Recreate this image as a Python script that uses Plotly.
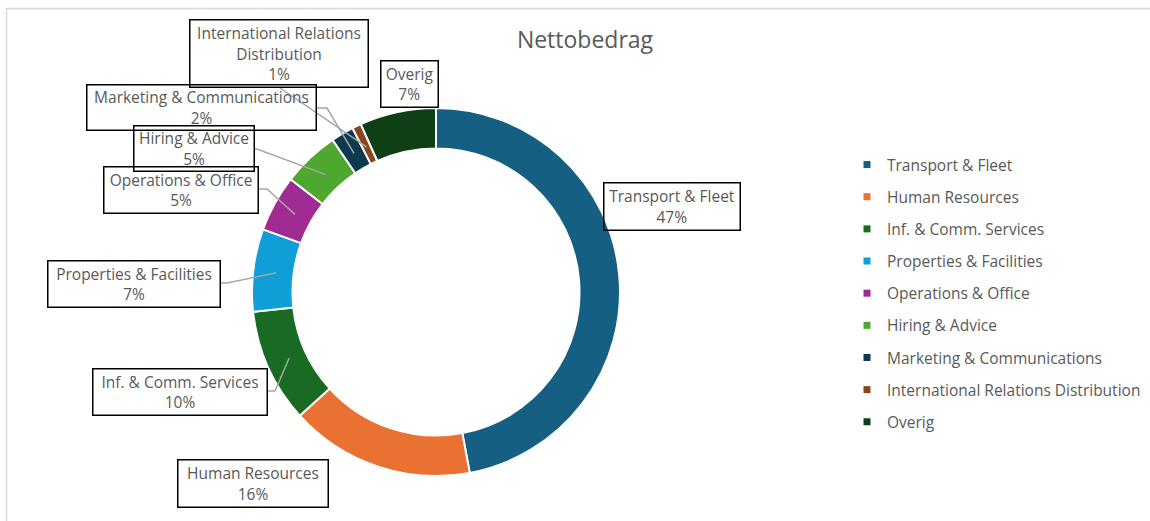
import math
import plotly.graph_objects as go

# ---------------- data ----------------
categories = [
    "Transport & Fleet",
    "Human Resources",
    "Inf. & Comm. Services",
    "Properties & Facilities",
    "Operations & Office",
    "Hiring & Advice",
    "Marketing & Communications",
    "International Relations Distribution",
    "Overig",
]
values = [47.05, 16.2, 10.0, 7.25, 4.97, 5.0, 2.0, 0.8, 6.7]
title_text = "Nettobedrag"

# ---------------- styles ----------------
colors = ["#156082", "#E97132", "#196B24", "#0F9ED5", "#A02B93",
          "#4EA72E", "#0D3A4F", "#8B441E", "#0F4015"]
FONT = "Open Sans"
TXT = "#595959"
W, H = 1150, 521
LABEL_SIZE = 15.5

# donut geometry in pixels (layout)
CX, CY, R = 436, 292, 184
HOLE = 0.78
LEADER_R = 161

# label boxes (pixel layout): x0, y0, x1, y1, label wrap, leader elbow, attach point
label_layout = [
    dict(box=(603, 183, 740, 231), wrap=None, elbow=None, attach=None),
    dict(box=(177, 459, 328, 507), wrap=None, elbow=None, attach=None),
    dict(box=(92, 368, 267, 415), wrap=None, elbow=(275, 391), attach=(267, 391)),
    dict(box=(47, 260, 220, 307), wrap=None, elbow=(227, 283), attach=(220, 283)),
    dict(box=(103, 166, 258, 213), wrap=None, elbow=(267, 189), attach=(258, 189)),
    dict(box=(133, 126, 254, 172), wrap=None, elbow=(257, 149), attach=(254, 149)),
    dict(box=(86, 85, 316, 131), wrap=None, elbow=(327, 108), attach=(316, 108)),
    dict(box=(189, 20, 368, 88), wrap="International Relations<br>Distribution", elbow=None, attach=(280, 88)),
    dict(box=(380, 61, 438, 108), wrap=None, elbow=None, attach=None),
]


def px(x):
    return x / W


def py(y):
    return 1 - y / H


fig = go.Figure()

fig.add_trace(go.Pie(
    labels=categories,
    values=values,
    hole=HOLE,
    sort=False,
    direction="clockwise",
    rotation=0,
    marker=dict(colors=colors, line=dict(color="white", width=2)),
    textinfo="none",
    hoverinfo="label+percent",
    showlegend=False,
    domain=dict(x=[px(CX - R), px(CX + R)], y=[py(CY + R), py(CY - R)]),
))

# legend entries (one group per category so spacing can be set)
for name, col in zip(categories, colors):
    fig.add_trace(go.Scatter(
        x=[None], y=[None], mode="markers", name=name, legendgroup=name,
        marker=dict(symbol="square", size=7, color=col),
        hoverinfo="skip", showlegend=True,
    ))

total = sum(values)
annotations = []
shapes = []
cum = 0.0
for i, (name, v) in enumerate(zip(categories, values)):
    mid = (cum + v / 2) / total * 360.0
    cum += v
    lay = label_layout[i]
    pct = round(v / total * 100)
    label = lay["wrap"] if lay["wrap"] else name
    x0, y0, x1, y1 = lay["box"]
    annotations.append(dict(
        x=px((x0 + x1) / 2), y=py((y0 + y1) / 2), xref="paper", yref="paper",
        xanchor="center", yanchor="middle",
        text=f"{label}<br>{pct}%", showarrow=False,
        font=dict(family=FONT, size=LABEL_SIZE, color=TXT),
        align="center", valign="middle",
        width=x1 - x0 - 2, height=y1 - y0 - 2, borderpad=0,
        bordercolor="black", borderwidth=1.5, bgcolor="rgba(0,0,0,0)",
    ))
    if lay["attach"] is not None:
        th = math.radians(mid)
        sx = CX + LEADER_R * math.sin(th)
        sy = CY - LEADER_R * math.cos(th)
        pts = [(sx, sy)]
        if lay["elbow"] is not None:
            pts.append(lay["elbow"])
        pts.append(lay["attach"])
        path = "M " + " L ".join(f"{px(a):.5f},{py(b):.5f}" for a, b in pts)
        shapes.append(dict(type="path", path=path, xref="paper", yref="paper",
                           line=dict(color="#A6A6A6", width=1.5)))

# chart area border
shapes.append(dict(type="path", xref="paper", yref="paper",
                   path=f"M {px(6.5)},{py(530)} L {px(6.5)},{py(8.5)} L {px(1160)},{py(8.5)}",
                   line=dict(color="#D9D9D9", width=1.5)))

fig.update_layout(
    width=W, height=H,
    margin=dict(l=0, r=0, t=0, b=0),
    paper_bgcolor="white", plot_bgcolor="white",
    title=dict(text=title_text, x=px(585), y=py(40), xanchor="center", yanchor="middle",
               font=dict(family=FONT, size=23, color=TXT)),
    xaxis=dict(visible=False, domain=[0.99, 1]),
    yaxis=dict(visible=False, domain=[0.99, 1]),
    legend=dict(x=px(847), xanchor="left", y=py(148), yanchor="top",
                tracegroupgap=9, font=dict(family=FONT, size=LABEL_SIZE, color=TXT),
                bgcolor="rgba(0,0,0,0)"),
    annotations=annotations,
    shapes=shapes,
    font=dict(family=FONT, color=TXT),
)

fig.write_html("out.html", config={"displayModeBar": False},
               post_script="document.body.style.margin='0';")
